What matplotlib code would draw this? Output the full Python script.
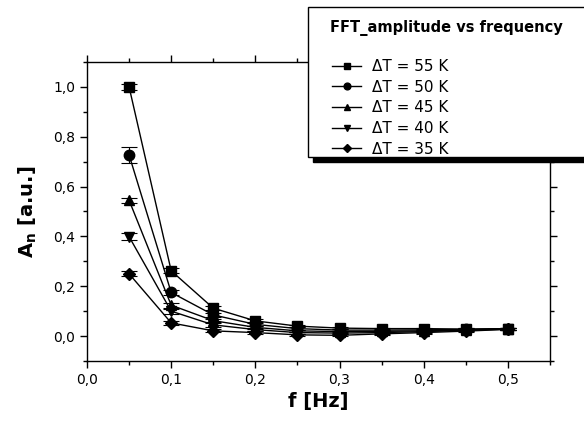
import numpy as np
import matplotlib
matplotlib.use("Agg")
import matplotlib.pyplot as plt
from matplotlib.patches import Rectangle
from matplotlib.ticker import MultipleLocator, FuncFormatter

# frequencies and FFT amplitudes
freq = [0.05, 0.10, 0.15, 0.20, 0.25, 0.30, 0.35, 0.40, 0.45, 0.50]
a55 = [1.000, 0.262, 0.112, 0.061, 0.040, 0.032, 0.030, 0.030, 0.028, 0.030]
a50 = [0.727, 0.175, 0.085, 0.047, 0.030, 0.024, 0.024, 0.025, 0.027, 0.030]
a45 = [0.545, 0.124, 0.062, 0.035, 0.021, 0.018, 0.019, 0.021, 0.025, 0.029]
a40 = [0.399, 0.100, 0.045, 0.026, 0.014, 0.012, 0.014, 0.018, 0.023, 0.028]
a35 = [0.250, 0.053, 0.021, 0.014, 0.005, 0.003, 0.009, 0.014, 0.020, 0.027]
e55 = [0.012, 0.010, 0.008, 0.006, 0.005, 0.004, 0.004, 0.004, 0.004, 0.004]
e50 = [0.032, 0.010, 0.008, 0.006, 0.005, 0.004, 0.004, 0.004, 0.004, 0.004]
e45 = [0.011, 0.010, 0.007, 0.005, 0.004, 0.004, 0.004, 0.004, 0.004, 0.004]
e40 = [0.013, 0.010, 0.007, 0.005, 0.004, 0.004, 0.004, 0.004, 0.004, 0.004]
e35 = [0.010, 0.008, 0.006, 0.005, 0.004, 0.004, 0.004, 0.004, 0.004, 0.004]
labels = ["\u0394T = 55 K", "\u0394T = 50 K", "\u0394T = 45 K", "\u0394T = 40 K", "\u0394T = 35 K"]

series = [a55, a50, a45, a40, a35]
errors = [e55, e50, e45, e40, e35]
markers = ["s", "o", "^", "v", "D"]
msizes = [7, 7.5, 7.5, 7.5, 6.5]

plt.rcParams['font.family'] = ['DejaVu Sans']

fig = plt.figure(figsize=(5.84, 4.23), dpi=100)
ax = fig.add_axes([87/584, 1-361/423, (550-87)/584, (361-62)/423])

handles = []
for y, e, m, ms, lab in zip(series, errors, markers, msizes, labels):
    ax.errorbar(freq, y, yerr=e, fmt='none', ecolor='black', elinewidth=0.8,
                capsize=5.5, capthick=0.8, zorder=2)
    h, = ax.plot(freq, y, '-', color='black', marker=m, markersize=ms,
                 linewidth=1.0, label=lab, zorder=3)
    handles.append(h)

ax.set_xlim(0, 0.55)
ax.set_ylim(-0.1, 1.1)
ax.xaxis.set_major_locator(MultipleLocator(0.1))
ax.xaxis.set_minor_locator(MultipleLocator(0.05))
ax.yaxis.set_major_locator(MultipleLocator(0.2))
ax.yaxis.set_minor_locator(MultipleLocator(0.1))
comma = FuncFormatter(lambda v, p: f"{v:.1f}".replace(".", ",").replace("-0,0", "0,0"))
ax.xaxis.set_major_formatter(comma)
ax.yaxis.set_major_formatter(comma)
ax.tick_params(which='both', direction='out', top=True, right=True,
               labeltop=False, labelright=False, width=1.0, labelsize=10)
ax.tick_params(which='major', length=5)
ax.tick_params(which='minor', length=3)
for s in ax.spines.values():
    s.set_linewidth(1.0)

ax.set_xlabel("f [Hz]", fontsize=14, fontweight='bold', labelpad=4)
ax.set_ylabel(r"$\mathbf{A_n}$ [a.u.]", fontsize=14, fontweight='bold', labelpad=10)

# legend box with black shadow, running off the right edge
bx0, by0 = 308/584, 1-157/423
bw, bh = 300/584, (157-7)/423
fig.patches.append(Rectangle((bx0 + 5/584, by0 - 5/423), bw, bh, transform=fig.transFigure,
                             facecolor='black', edgecolor='black', zorder=5))
fig.patches.append(Rectangle((bx0, by0), bw, bh, transform=fig.transFigure,
                             facecolor='white', edgecolor='black', linewidth=1.0, zorder=6))
fig.text(330/584, 1-28/423, "FFT_amplitude vs frequency", fontsize=10.5,
         fontweight='bold', va='center', ha='left', zorder=7)
leg = fig.legend(handles=handles, loc='upper left', bbox_to_anchor=(326/584, 1-53/423),
                 frameon=False, fontsize=11, handlelength=1.9, handletextpad=0.7,
                 labelspacing=0.37, markerscale=0.65, borderaxespad=0)
leg.set_zorder(7)

plt.savefig("out.png", dpi=100)
